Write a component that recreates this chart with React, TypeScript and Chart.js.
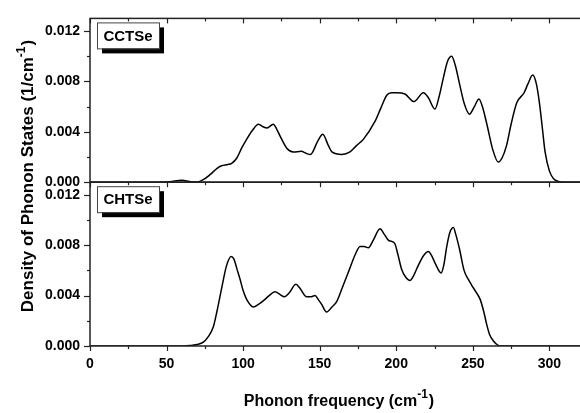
import React, { useEffect, useRef } from "react";
import { Chart, registerables } from "chart.js";

Chart.register(...registerables);

const cctsFreq = [0, 45, 52, 60, 66, 70, 74, 78.4, 83, 86, 90, 92.5, 95.8, 99, 102.3, 106, 110, 113, 115.6, 119.7, 122, 124, 128.5, 132.8, 138, 141, 144, 148.5, 152, 155.7, 158, 164.4, 169.8, 174, 178.5, 186, 190, 193.8, 197, 200.3, 205.7, 211.6, 217.7, 221, 225.3, 228, 230.8, 233.5, 236.2, 238.5, 241.7, 244.5, 247.8, 251, 254, 256, 259, 263, 266.6, 269, 272, 275, 278.7, 283.5, 286, 289.1, 291.5, 293.5, 295.5, 297.2, 300, 302.6, 306, 309, 320];
const cctsDos = [0, 0, 0.00003, 0.00015, 0.00003, 0.00002, 0.0002, 0.0006, 0.0011, 0.0013, 0.0014, 0.0015, 0.0019, 0.0027, 0.0034, 0.0041, 0.0046, 0.0044, 0.0043, 0.0046, 0.0042, 0.0037, 0.0027, 0.0024, 0.00245, 0.0023, 0.0022, 0.0032, 0.0038, 0.0029, 0.0024, 0.0022, 0.0024, 0.0029, 0.0034, 0.0048, 0.0059, 0.0069, 0.0071, 0.0071, 0.007, 0.0064, 0.0071, 0.0067, 0.0058, 0.0068, 0.0083, 0.0096, 0.01, 0.0093, 0.0076, 0.0062, 0.0054, 0.006, 0.0066, 0.0061, 0.0047, 0.0026, 0.0016, 0.0019, 0.0029, 0.0046, 0.0063, 0.0071, 0.0078, 0.0085, 0.0078, 0.0063, 0.0042, 0.0024, 0.0009, 0.0003, 0.00005, 0, 0];

const chtsFreq = [0, 62, 66, 70, 74, 77, 80.5, 83, 86, 89, 92.1, 94, 96, 98, 100, 102.3, 106.7, 110, 114.3, 117, 120.8, 124, 126.9, 130, 134.5, 137, 141.5, 144, 147, 149, 151.3, 154.5, 158, 161, 165, 169.8, 173, 176.4, 179, 181.8, 185, 189.4, 192, 194.8, 197, 199.2, 201, 203.5, 206, 209, 211, 214.4, 218, 221, 223, 225.3, 229.3, 231, 233, 235, 237.3, 239, 241.3, 244.3, 247, 249.4, 252, 254.8, 257, 259.1, 261, 263.5, 266, 268, 320];
const chtsDos = [0, 0, 0.00005, 0.00012, 0.0003, 0.0007, 0.0015, 0.0028, 0.0046, 0.0063, 0.0071, 0.0069, 0.0061, 0.0053, 0.0044, 0.0037, 0.0031, 0.0033, 0.0037, 0.004, 0.0043, 0.0041, 0.0039, 0.0042, 0.0049, 0.0046, 0.0039, 0.0039, 0.004, 0.0037, 0.0033, 0.0027, 0.0031, 0.0035, 0.0047, 0.0062, 0.0072, 0.0079, 0.0079, 0.0078, 0.0084, 0.0093, 0.0089, 0.0084, 0.0083, 0.0081, 0.0073, 0.0061, 0.0055, 0.0052, 0.0055, 0.0064, 0.0072, 0.0075, 0.0072, 0.0066, 0.0058, 0.0064, 0.0079, 0.009, 0.0094, 0.0088, 0.0077, 0.006, 0.0053, 0.0048, 0.0043, 0.0037, 0.0028, 0.0017, 0.0009, 0.0004, 0.0001, 0, 0];

const panelLabels = ["CCTSe", "CHTSe"];
const xMajorTicks = [0, 50, 100, 150, 200, 250, 300];
const xMinorTicks = [25, 75, 125, 175, 225, 275];
const yMajorTicks = [0, 0.004, 0.008, 0.012];
const yMinorTicks = [0.002, 0.006, 0.01];
const xTitle = "Phonon frequency (cm";
const yTitle = "Density of Phonon States (1/cm";
const superText = "-1";

const FONT = "'Liberation Sans', Arial, sans-serif";
const AXIS = "#222";

const framePlugin = {
  id: "frame",
  afterDraw(chart: any) {
    const ctx = chart.ctx as CanvasRenderingContext2D;
    const ca = chart.chartArea;
    const xs = chart.scales.x;
    const panels = [chart.scales.yTop, chart.scales.yBot].sort((a: any, b: any) => a.top - b.top);
    ctx.save();
    ctx.strokeStyle = AXIS;
    ctx.lineWidth = 1.5;
    panels.forEach((s: any) => {
      ctx.strokeRect(ca.left, s.top, ca.right - ca.left + 4, s.bottom - s.top);
    });
    ctx.lineWidth = 1.2;
    const tickRows = [panels[0].top, panels[1].top, panels[1].bottom];
    tickRows.forEach((yy: number) => {
      xMajorTicks.forEach((v) => {
        const px = Math.round(xs.getPixelForValue(v)) + 0.5;
        ctx.beginPath();
        ctx.moveTo(px, yy);
        ctx.lineTo(px, yy + 5);
        ctx.stroke();
      });
      xMinorTicks.forEach((v) => {
        const px = Math.round(xs.getPixelForValue(v)) + 0.5;
        ctx.beginPath();
        ctx.moveTo(px, yy);
        ctx.lineTo(px, yy + 3);
        ctx.stroke();
      });
    });
    panels.forEach((s: any) => {
      yMajorTicks.forEach((v) => {
        const py = Math.round(s.getPixelForValue(v)) + 0.5;
        ctx.beginPath();
        ctx.moveTo(ca.left, py);
        ctx.lineTo(ca.left - 6, py);
        ctx.stroke();
      });
      yMinorTicks.forEach((v) => {
        const py = Math.round(s.getPixelForValue(v)) + 0.5;
        ctx.beginPath();
        ctx.moveTo(ca.left, py);
        ctx.lineTo(ca.left - 3, py);
        ctx.stroke();
      });
    });
    panels.forEach((s: any, i: number) => {
      const bx = ca.left + 7;
      const by = s.top + 4;
      const bw = 62;
      const bh = 26;
      ctx.fillStyle = "#000";
      ctx.fillRect(bx + 5, by + 5, bw, bh);
      ctx.fillStyle = "#fff";
      ctx.fillRect(bx, by, bw, bh);
      ctx.strokeStyle = "#444";
      ctx.lineWidth = 1;
      ctx.strokeRect(bx + 0.5, by + 0.5, bw, bh);
      ctx.fillStyle = "#000";
      ctx.font = `bold 15px ${FONT}`;
      ctx.textAlign = "center";
      ctx.textBaseline = "middle";
      ctx.fillText(panelLabels[i], bx + bw / 2, by + bh / 2 + 1);
    });
    const drawTitle = (main: string, cx: number, baseY: number, size: number) => {
      const sub = Math.round(size * 0.72);
      ctx.font = `bold ${size}px ${FONT}`;
      const w1 = ctx.measureText(main).width;
      ctx.font = `bold ${sub}px ${FONT}`;
      const w2 = ctx.measureText(superText).width;
      ctx.font = `bold ${size}px ${FONT}`;
      const w3 = ctx.measureText(")").width;
      const total = w1 + w2 + w3 + 1;
      let x0 = cx - total / 2;
      ctx.textAlign = "left";
      ctx.textBaseline = "alphabetic";
      ctx.fillStyle = "#000";
      ctx.fillText(main, x0, baseY);
      x0 += w1;
      ctx.font = `bold ${sub}px ${FONT}`;
      ctx.fillText(superText, x0, baseY - size * 0.5);
      x0 += w2 + 1;
      ctx.font = `bold ${size}px ${FONT}`;
      ctx.fillText(")", x0, baseY);
    };
    drawTitle(xTitle, 339, 406, 16);
    ctx.save();
    ctx.translate(33, 176);
    ctx.rotate(-Math.PI / 2);
    drawTitle(yTitle, 0, 0, 17);
    ctx.restore();
    ctx.restore();
  },
};

export default function App() {
  const ref = useRef<HTMLCanvasElement | null>(null);
  useEffect(() => {
    if (!ref.current) return;
    const yScale = () => ({
      type: "linear" as const,
      position: "left" as const,
      stack: "panels",
      stackWeight: 1,
      min: 0,
      max: 0.013,
      grid: { display: false, drawTicks: false },
      border: { display: false },
      afterFit: (s: any) => {
        s.width = 90;
      },
      ticks: {
        stepSize: 0.004,
        includeBounds: false,
        padding: 10,
        color: "#000",
        font: { family: FONT, size: 14, weight: "bold" as const },
        callback: (v: any) => Number(v).toFixed(3),
      },
    });
    const chart = new Chart(ref.current, {
      type: "line",
      data: {
        datasets: [
          {
            label: panelLabels[0],
            data: cctsFreq.map((f, i) => ({ x: f, y: cctsDos[i] })),
            yAxisID: "yTop",
            borderColor: "#000",
            borderWidth: 1.5,
            pointRadius: 0,
            cubicInterpolationMode: "monotone",
            fill: false,
          },
          {
            label: panelLabels[1],
            data: chtsFreq.map((f, i) => ({ x: f, y: chtsDos[i] })),
            yAxisID: "yBot",
            borderColor: "#000",
            borderWidth: 1.5,
            pointRadius: 0,
            cubicInterpolationMode: "monotone",
            fill: false,
          },
        ],
      },
      options: {
        animation: false,
        responsive: false,
        maintainAspectRatio: false,
        layout: { padding: { top: 10, left: 0, right: 0, bottom: 0 } },
        plugins: { legend: { display: false }, tooltip: { enabled: false } },
        scales: {
          x: {
            type: "linear",
            position: "bottom",
            min: 0,
            max: 320,
            grid: { display: false, drawTicks: false },
            border: { display: false },
            afterFit: (s: any) => {
              s.height = 67;
            },
            ticks: {
              stepSize: 50,
              includeBounds: false,
              padding: 10,
              maxRotation: 0,
              color: "#000",
              font: { family: FONT, size: 14, weight: "bold" },
            },
          },
          yBot: yScale(),
          yTop: yScale(),
        },
      } as any,
      plugins: [framePlugin],
    });
    return () => chart.destroy();
  }, []);
  return (
    <div style={{ position: "absolute", left: 0, top: 0, width: 580, height: 413, background: "#fff" }}>
      <canvas ref={ref} width={580} height={413} />
    </div>
  );
}
